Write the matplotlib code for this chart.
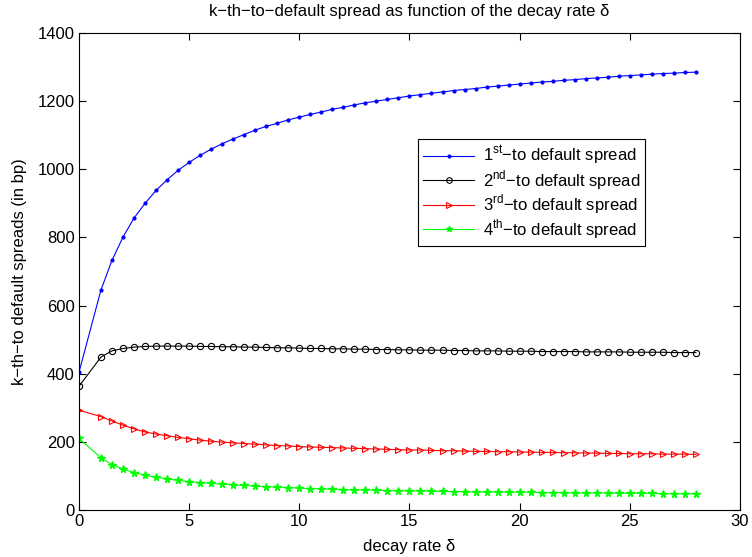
import numpy as np
import matplotlib
matplotlib.use('Agg')
import matplotlib.pyplot as plt

plt.rcParams['font.family'] = ['Liberation Sans', 'DejaVu Sans']
plt.rcParams['mathtext.fontset'] = 'custom'
plt.rcParams['mathtext.rm'] = 'Liberation Sans'
plt.rcParams['font.size'] = 12

# decay rate grid: 0, then 1 .. 28 in steps of 0.5
delta = np.concatenate(([0.0], np.arange(1.0, 28.01, 0.5)))

first = [404, 646, 733, 801, 857, 900, 938, 969, 997, 1020,
         1041, 1059, 1075, 1089, 1102, 1115, 1126, 1135, 1145, 1153,
         1161, 1168, 1176, 1182, 1189, 1195, 1200, 1205, 1210, 1215,
         1219, 1223, 1227, 1231, 1234, 1237, 1241, 1244, 1247, 1250,
         1253, 1256, 1258, 1261, 1263, 1266, 1268, 1270, 1273, 1275,
         1277, 1279, 1281, 1282, 1284, 1285]
second = [363, 449, 467, 474, 478, 480, 481, 481, 481, 481,
          480, 480, 479, 479, 478, 478, 477, 476, 476, 475,
          474, 474, 473, 473, 472, 472, 471, 471, 470, 470,
          469, 469, 469, 468, 468, 467, 467, 467, 466, 466,
          466, 465, 465, 465, 465, 464, 464, 464, 464, 463,
          463, 463, 463, 462, 462, 462]
third = [293, 274, 261, 249, 238, 229, 223, 218, 213, 209,
         205, 202, 199, 197, 195, 193, 191, 189, 188, 186,
         185, 184, 183, 182, 181, 180, 179, 178, 177, 176,
         176, 175, 174, 174, 173, 172, 172, 171, 171, 170,
         170, 169, 169, 168, 168, 167, 167, 166, 166, 165,
         165, 165, 164, 164, 164, 163]
fourth = [210, 153, 133, 120, 110, 102, 96, 91, 87, 83,
          80, 78, 76, 74, 72, 70, 68, 67, 66, 64,
          63, 62, 61, 60, 59, 59, 58, 57, 57, 56,
          56, 55, 55, 54, 54, 53, 53, 53, 52, 52,
          52, 51, 51, 51, 50, 50, 50, 50, 49, 49,
          49, 49, 48, 48, 48, 48]

labels = ['1$^{\\mathrm{st}}$\u2212to default spread',
          '2$^{\\mathrm{nd}}$\u2212to default spread',
          '3$^{\\mathrm{rd}}$\u2212to default spread',
          '4$^{\\mathrm{th}}$\u2212to default spread']

fig = plt.figure(figsize=(7.52, 5.57), dpi=100)
ax = fig.add_axes([0.105, 0.0844, 0.879, 0.8564])

lw = 0.8
ax.plot(delta, first, color='#0000ff', marker='.', markersize=4, lw=lw, label=labels[0])
ax.plot(delta, second, color='k', marker='o', markersize=4.5, mfc='none', mew=0.8, lw=lw, label=labels[1])
ax.plot(delta, third, color='#ff0000', marker='>', markersize=5, mfc='none', mew=0.8, lw=lw, label=labels[2])
ax.plot(delta, fourth, color='#00ff00', marker='*', markersize=5.5, lw=lw, label=labels[3])

ax.set_xlim(0, 30)
ax.set_ylim(0, 1400)
ax.set_xticks(np.arange(0, 31, 5))
ax.set_yticks(np.arange(0, 1401, 200))
ax.tick_params(direction='in', top=True, right=True, length=5, width=0.8, pad=3)
for s in ax.spines.values():
    s.set_linewidth(0.8)

ax.set_xlabel('decay rate \u03b4', labelpad=7)
ax.set_ylabel('k\u2212th\u2212to default spreads (in bp)', labelpad=8)
ax.set_title('k\u2212th\u2212to\u2212default spread as function of the decay rate \u03b4',
             fontsize=12, pad=12)

leg = ax.legend(loc='upper left', bbox_to_anchor=(0.5, 0.795), fancybox=False,
                framealpha=1, edgecolor='k', borderpad=0.3, labelspacing=0.05,
                handlelength=3.1, handletextpad=0.5, fontsize=12)
leg.get_frame().set_linewidth(0.8)
for h in leg.legend_handles:
    h.set_markersize(4)

fig.savefig('out.png', dpi=100)
